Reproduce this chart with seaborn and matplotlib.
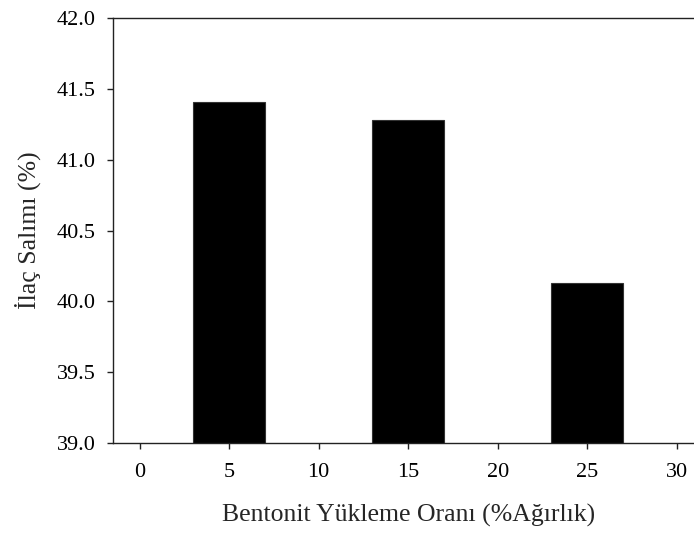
import matplotlib
matplotlib.use("Agg")
import matplotlib.pyplot as plt
import seaborn as sns
import pandas as pd

loading = [5, 15, 25]
release = [41.41, 41.28, 40.13]
xticks = [0, 5, 10, 15, 20, 25, 30]
yticks = [39.0, 39.5, 40.0, 40.5, 41.0, 41.5, 42.0]

sns.set_theme(style="ticks")
plt.rcParams['font.family'] = ['Liberation Serif', 'DejaVu Serif']

df = pd.DataFrame({"x": loading, "y": release})

fig = plt.figure(figsize=(6.94, 5.34), dpi=100)
ax = fig.add_axes([0.1628, 0.1704, 1.0135 - 0.1628, 0.9663 - 0.1704])
sns.barplot(data=df, x="x", y="y", native_scale=True, width=0.4,
            color="black", edgecolor="#333333", linewidth=0.8, ax=ax,
            errorbar=None, saturation=1)

ax.set_xlim(-1.5, 31.5)
ax.set_ylim(39.0, 42.0)
ax.set_xticks(xticks)
ax.set_xticklabels([str(t) for t in xticks])
ax.set_yticks(yticks)
ax.set_yticklabels([f"{t:.1f}" for t in yticks])

for s in ax.spines.values():
    s.set_linewidth(1.0)
    s.set_color("#222222")
ax.tick_params(axis="both", direction="out", length=4.5, width=1.0,
               labelsize=16, colors="#222222", labelcolor="black")
ax.tick_params(axis="y", pad=8)
ax.tick_params(axis="x", pad=10)

ax.set_xlabel("Bentonit Yükleme Oranı (%Ağırlık)", fontsize=18.5, labelpad=16)
ax.set_ylabel("İlaç Salımı (%)", fontsize=18.5, labelpad=11)

fig.savefig("out.png", dpi=100)
